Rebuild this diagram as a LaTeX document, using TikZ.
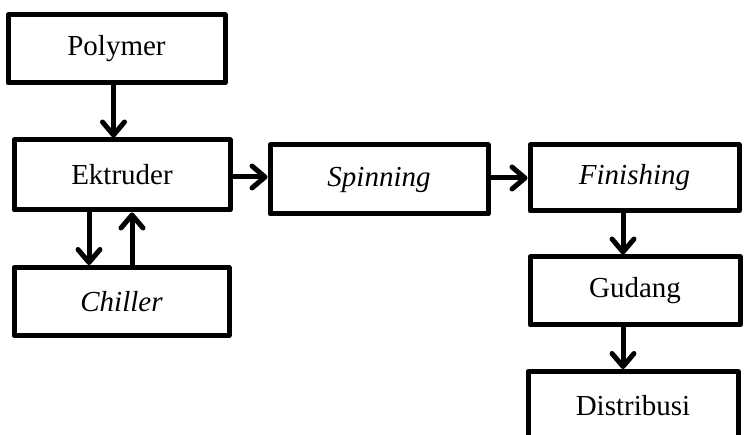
\documentclass[tikz,border=0pt]{standalone}
\usepackage{fontspec}
\setmainfont{Liberation Serif}
\usetikzlibrary{arrows.meta}
\begin{document}
\begin{tikzpicture}[x=1pt,y=-1pt,
    box/.style={draw,line width=5pt,line join=round,inner sep=0pt,
      minimum height=68pt,font=\fontsize{29}{34}\selectfont},
    flow/.style={line width=5pt,
      -{Straight Barb[length=13pt,width=22pt,line cap=round,line join=round]}}]
    \clip (0,0) rectangle (745,435);
    \node[box,minimum width=217pt] (polymer) at (116.5,49) {Polymer};
    \node[box,minimum width=216pt,minimum height=70pt] (ektruder) at (122,175) {Ektruder};
    \node[box,minimum width=215pt] (chiller) at (121.5,301.5) {\textit{Chiller}};
    \node[box,minimum width=218pt,minimum height=69pt] (spinning) at (379,179.5) {\textit{Spinning}};
    \node[box,minimum width=209pt,minimum height=66pt] (finishing) at (634.5,178) {\textit{Finishing}};
    \node[box,minimum width=210pt] (gudang) at (635,291) {Gudang};
    \node[box,minimum width=210pt] (distribusi) at (633,405.5) {Distribusi};
    \draw[flow] (polymer.south -| 113.5,0) -- (ektruder.north -| 113.5,0);
    \draw[flow] (ektruder.south -| 89,0) -- (chiller.north -| 89,0);
    \draw[flow] (chiller.north -| 132,0) -- (ektruder.south -| 132,0);
    \draw[flow] (ektruder.east |- 0,177) -- (spinning.west |- 0,177);
    \draw[flow] (spinning.east |- 0,178) -- (finishing.west |- 0,178);
    \draw[flow] (finishing.south -| 623,0) -- (gudang.north -| 623,0);
    \draw[flow] (gudang.south -| 623,0) -- (distribusi.north -| 623,0);
  \end{tikzpicture}
\end{document}
